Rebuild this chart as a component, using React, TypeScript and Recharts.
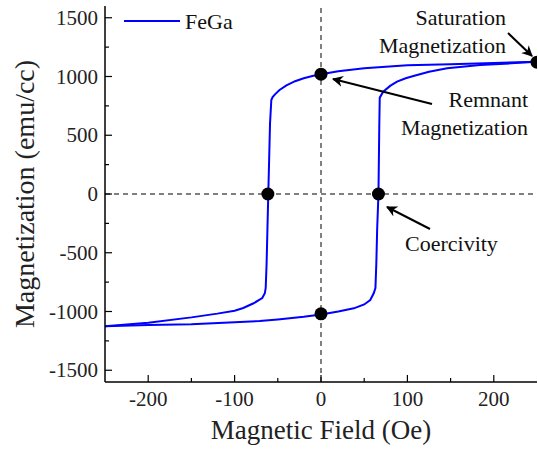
import React from "react";
import {
  ComposedChart,
  Line,
  Scatter,
  XAxis,
  YAxis,
  ReferenceLine,
} from "recharts";

// ─── Data ────────────────────────────────────────────────────────────────────

// descending branch: field swept from +250 Oe down to -250 Oe
const DESC_FIELD = [250, 200, 150, 100, 50, 20, 0, -10, -20, -30, -40, -48, -53, -56, -57.5, -59, -60, -61, -62, -63, -64, -65, -68, -78, -90, -100, -120, -150, -200, -250];
const DESC_MOMENT = [1125, 1115, 1105, 1095, 1070, 1045, 1020, 1005, 985, 960, 925, 885, 850, 825, 800, 600, 300, 0, -300, -600, -800, -845, -885, -930, -970, -993, -1018, -1050, -1095, -1125];

// ascending branch: field swept from -250 Oe up to +250 Oe
const ASC_FIELD = [-250, -200, -150, -100, -71, -50, -20, 0, 20, 38, 50, 57, 61, 63, 64, 65, 66.5, 67, 67.5, 68, 72, 80, 88, 98, 107, 125, 146, 184, 220, 250];
const ASC_MOMENT = [-1125, -1115, -1108, -1092, -1081, -1068, -1045, -1025, -1000, -973, -940, -902, -845, -800, -600, -300, 0, 300, 600, 820, 870, 920, 956, 985, 1004, 1040, 1070, 1098, 1112, 1125];

// marked points: remanence (+/-), coercive fields (+/-), saturation
const MARK_FIELD = [0, 0, -61.5, 66.5, 250];
const MARK_MOMENT = [1020, -1020, 0, 0, 1122];

const X_TICKS = [-200, -150, -100, -50, 0, 50, 100, 150, 200];
const Y_TICKS = [-1500, -1250, -1000, -750, -500, -250, 0, 250, 500, 750, 1000, 1250, 1500];

const descData = DESC_FIELD.map((h, i) => ({ h, m: DESC_MOMENT[i] }));
const ascData = ASC_FIELD.map((h, i) => ({ h, m: ASC_MOMENT[i] }));
const markData = MARK_FIELD.map((h, i) => ({ h, m: MARK_MOMENT[i] }));

const FONT = "'Liberation Serif', 'Times New Roman', serif";
const BLUE = "#0000ff";
const TICK_MARGIN_X = 10;
const TICK_MARGIN_Y = 7;
const serif = { fontFamily: FONT };

// ─── Ticks (drawn inside, minor ones unlabeled) ──────────────────────────────

const XTick = (props: any) => {
  const { x, y, payload } = props;
  const major = payload.value % 100 === 0;
  const axisY = y - TICK_MARGIN_X;
  return (
    <g>
      <line x1={x} x2={x} y1={axisY} y2={axisY - (major ? 7 : 4)} stroke="#000" strokeWidth={1.2} />
      {major ? (
        <text x={x} y={y + 14} textAnchor="middle" fontSize={21} style={serif} fill="#222">
          {payload.value}
        </text>
      ) : null}
    </g>
  );
};

const YTick = (props: any) => {
  const { x, y, payload } = props;
  const major = payload.value % 500 === 0;
  const axisX = x + TICK_MARGIN_Y;
  return (
    <g>
      <line x1={axisX} x2={axisX + (major ? 7 : 4)} y1={y} y2={y} stroke="#000" strokeWidth={1.2} />
      {major ? (
        <text x={x} y={y + 7} textAnchor="end" fontSize={21} style={serif} fill="#222">
          {payload.value}
        </text>
      ) : null}
    </g>
  );
};

// ─── Annotations overlay ─────────────────────────────────────────────────────

const Annotations = () => (
  <svg
    width={538}
    height={451}
    style={{ position: "absolute", left: 0, top: 0, pointerEvents: "none", fontFamily: FONT }}
    fontSize={22}
    fill="#111"
  >
    <defs>
      <marker id="arrow" viewBox="0 0 10 10" refX={9} refY={5} markerWidth={11} markerHeight={11} markerUnits="userSpaceOnUse" orient="auto">
        <path d="M0,0 L10,5 L0,10 L3,5 z" fill="#000" />
      </marker>
    </defs>
    {/* legend */}
    <line x1={124} x2={180} y1={21} y2={21} stroke={BLUE} strokeWidth={2} />
    <text x={185} y={29} style={serif}>FeGa</text>

    <text x={506} y={25} textAnchor="end" style={serif}>Saturation</text>
    <text x={506} y={53} textAnchor="end" style={serif}>Magnetization</text>
    <line x1={508} y1={33} x2={532} y2={56} stroke="#000" strokeWidth={2} markerEnd="url(#arrow)" />

    <text x={528} y={107} textAnchor="end" style={serif}>Remnant</text>
    <text x={528} y={135} textAnchor="end" style={serif}>Magnetization</text>
    <line x1={432} y1={104} x2={333} y2={79} stroke="#000" strokeWidth={2} markerEnd="url(#arrow)" />

    <text x={405} y={251} style={serif}>Coercivity</text>
    <line x1={430} y1={229} x2={387} y2={207} stroke="#000" strokeWidth={2} markerEnd="url(#arrow)" />
  </svg>
);

// ─── Chart ───────────────────────────────────────────────────────────────────

export default function App() {
  return (
    <div style={{ position: "absolute", left: 0, top: 0, width: 538, height: 451, background: "#fff" }}>
      <ComposedChart width={538} height={451} margin={{ top: 6, right: 1, bottom: 0, left: 0 }}>
        <XAxis
          xAxisId="main"
          dataKey="h"
          type="number"
          domain={[-250, 250]}
          allowDataOverflow
          ticks={X_TICKS}
          interval={0}
          height={69}
          tickSize={0}
          tickMargin={TICK_MARGIN_X}
          tickLine={false}
          tick={<XTick />}
          axisLine={{ stroke: "#000", strokeWidth: 1.5 }}
          label={{ value: "Magnetic Field (Oe)", position: "insideBottom", offset: 12, fontSize: 27, fill: "#222", style: serif }}
        />
        <XAxis
          xAxisId="top"
          orientation="top"
          type="number"
          domain={[-250, 250]}
          height={0}
          tick={false}
          tickLine={false}
          axisLine={{ stroke: "#777", strokeWidth: 2 }}
        />
        <YAxis
          yAxisId="main"
          type="number"
          domain={[-1600, 1600]}
          allowDataOverflow
          ticks={Y_TICKS}
          interval={0}
          width={105}
          tickSize={0}
          tickMargin={TICK_MARGIN_Y}
          tickLine={false}
          tick={<YTick />}
          axisLine={{ stroke: "#000", strokeWidth: 1.5 }}
          label={{
            value: "Magnetization (emu/cc)",
            angle: -90,
            position: "insideLeft",
            offset: 24,
            fontSize: 28,
            fill: "#222",
            style: { textAnchor: "middle", fontFamily: FONT },
          }}
        />
        <YAxis
          yAxisId="right"
          orientation="right"
          type="number"
          domain={[-1600, 1600]}
          width={0}
          tick={false}
          tickLine={false}
          axisLine={{ stroke: "#555", strokeWidth: 1.5 }}
        />
        <ReferenceLine xAxisId="main" yAxisId="main" x={0} stroke="#000" strokeWidth={1} strokeDasharray="5 4" />
        <ReferenceLine xAxisId="main" yAxisId="main" y={0} stroke="#000" strokeWidth={1} strokeDasharray="5 4" />
        <Line
          xAxisId="main"
          yAxisId="main"
          data={descData}
          dataKey="m"
          type="linear"
          stroke={BLUE}
          strokeWidth={2}
          dot={false}
          activeDot={false}
          isAnimationActive={false}
        />
        <Line
          xAxisId="main"
          yAxisId="main"
          data={ascData}
          dataKey="m"
          type="linear"
          stroke={BLUE}
          strokeWidth={2}
          dot={false}
          activeDot={false}
          isAnimationActive={false}
        />
        <Scatter
          xAxisId="main"
          yAxisId="main"
          data={markData}
          dataKey="m"
          isAnimationActive={false}
          shape={(p: any) => <circle cx={p.cx} cy={p.cy} r={6.5} fill="#000" />}
        />
      </ComposedChart>
      <Annotations />
    </div>
  );
}
